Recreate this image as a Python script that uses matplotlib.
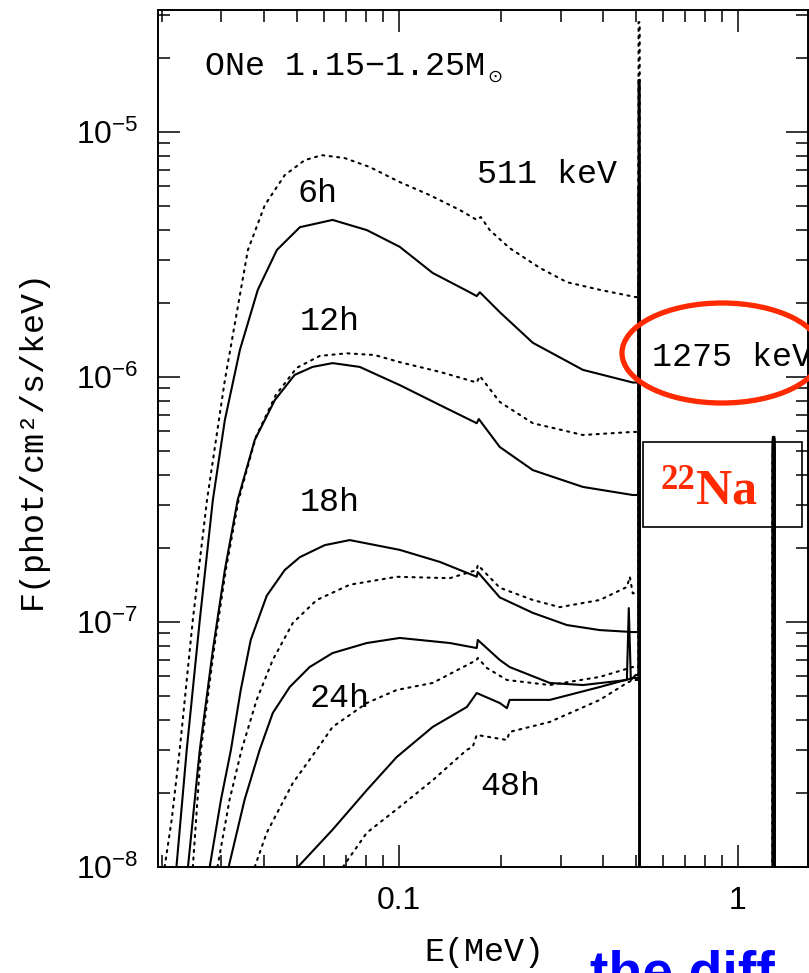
import matplotlib
matplotlib.use("Agg")
import matplotlib.pyplot as plt
from matplotlib.patches import Ellipse, Rectangle
from matplotlib.ticker import LogLocator, FuncFormatter, NullFormatter, FixedLocator

plt.rcParams['font.family'] = ['Liberation Sans', 'DejaVu Sans']
plt.rcParams['mathtext.fontset'] = 'custom'
plt.rcParams['mathtext.rm'] = 'Liberation Sans'
plt.rcParams['mathtext.it'] = 'Liberation Sans:italic'
plt.rcParams['mathtext.bf'] = 'Liberation Sans:bold'
plt.rcParams['mathtext.sf'] = 'Liberation Sans'

# ---------------- data (E in MeV, F in phot/cm2/s/keV) ----------------
times = ['6h', '12h', '18h', '24h', '48h']

E_6h_dot = [0.0204, 0.0214, 0.0226, 0.0247, 0.0272, 0.0307, 0.0359, 0.0403, 0.0461, 0.0528, 0.0593,
            0.0693, 0.0821, 0.1007, 0.1234, 0.1513, 0.1698, 0.1746, 0.1855, 0.2123, 0.2606, 0.3131,
            0.3917, 0.4999]
F_6h_dot = [1.0e-8, 1.56e-8, 3.01e-8, 1.02e-7, 3.15e-7, 9.7e-7, 3.30e-6, 5.04e-6, 6.67e-6, 7.68e-6, 8.05e-6,
            7.83e-6, 7.20e-6, 6.25e-6, 5.53e-6, 4.81e-6, 4.38e-6, 4.50e-6, 3.98e-6, 3.36e-6, 2.79e-6, 2.44e-6,
            2.27e-6, 2.12e-6]

E_6h_sol = [0.0221, 0.0237, 0.0259, 0.0283, 0.0307, 0.0340, 0.0384, 0.0437, 0.0511, 0.0638, 0.0805,
            0.1007, 0.1259, 0.1618, 0.1698, 0.1734, 0.1986, 0.2485, 0.3491, 0.4898]
F_6h_sol = [1.0e-8, 3.01e-8, 1.02e-7, 3.15e-7, 6.67e-7, 1.29e-6, 2.27e-6, 3.30e-6, 4.09e-6, 4.38e-6, 3.98e-6,
            3.40e-6, 2.66e-6, 2.22e-6, 2.14e-6, 2.22e-6, 1.84e-6, 1.38e-6, 1.07e-6, 9.5e-7]

E_12h_sol = [0.0239, 0.0259, 0.0283, 0.0307, 0.0335, 0.0376, 0.0431, 0.0493, 0.0557, 0.0638, 0.0767,
             0.1007, 0.1321, 0.1698, 0.1722, 0.1986, 0.2485, 0.3491, 0.4898]
F_12h_sol = [1.0e-8, 3.01e-8, 7.69e-8, 1.63e-7, 3.15e-7, 5.53e-7, 8.05e-7, 1.02e-6, 1.10e-6, 1.14e-6, 1.10e-6,
             9.27e-7, 7.69e-7, 6.48e-7, 6.74e-7, 5.18e-7, 4.17e-7, 3.56e-7, 3.30e-7]

E_12h_dot = [0.0247, 0.0261, 0.0285, 0.0309, 0.0337, 0.0379, 0.0434, 0.0500, 0.0585, 0.0703, 0.0849,
             0.1007, 0.1321, 0.1698, 0.1734, 0.1986, 0.2485, 0.3491, 0.4898]
F_12h_dot = [1.0e-8, 3.01e-8, 7.69e-8, 1.63e-7, 3.15e-7, 5.69e-7, 8.45e-7, 1.09e-6, 1.22e-6, 1.25e-6, 1.23e-6,
             1.15e-6, 1.05e-6, 9.5e-7, 1.01e-6, 7.91e-7, 6.48e-7, 5.80e-7, 5.97e-7]

E_18h_sol = [0.0277, 0.0299, 0.0320, 0.0342, 0.0366, 0.0408, 0.0461, 0.0511, 0.0605, 0.0717, 0.1007,
             0.1321, 0.1698, 0.1710, 0.1986, 0.2485, 0.3131, 0.3917, 0.4898]
F_18h_sol = [1.0e-8, 1.88e-8, 3.01e-8, 5.28e-8, 8.45e-8, 1.28e-7, 1.63e-7, 1.84e-7, 2.06e-7, 2.16e-7, 1.97e-7,
             1.76e-7, 1.53e-7, 1.60e-7, 1.26e-7, 1.09e-7, 9.72e-8, 9.27e-8, 9.10e-8]

E_18h_dot = [0.0292, 0.0317, 0.0344, 0.0356, 0.0381, 0.0425, 0.0487, 0.0573, 0.0717, 0.0986, 0.1414,
             0.1698, 0.1710, 0.1986, 0.2485, 0.2985, 0.3917, 0.4707, 0.4801, 0.4898]
F_18h_dot = [1.0e-8, 1.88e-8, 3.01e-8, 3.52e-8, 4.81e-8, 7.00e-8, 9.91e-8, 1.23e-7, 1.42e-7, 1.53e-7, 1.51e-7,
             1.63e-7, 1.71e-7, 1.38e-7, 1.23e-7, 1.15e-7, 1.23e-7, 1.39e-7, 1.53e-7, 1.31e-7]

E_24h_sol = [0.0315, 0.0351, 0.0389, 0.0425, 0.0477, 0.0546, 0.0638, 0.0805, 0.1007, 0.1414, 0.1698,
             0.1710, 0.1986, 0.2123, 0.2789, 0.3491, 0.4707, 0.4768, 0.4835, 0.4999]
F_24h_sol = [1.0e-8, 1.88e-8, 3.01e-8, 4.25e-8, 5.43e-8, 6.55e-8, 7.47e-8, 8.21e-8, 8.61e-8, 8.21e-8, 7.83e-8,
             8.45e-8, 7.00e-8, 6.55e-8, 5.64e-8, 5.53e-8, 5.80e-8, 1.14e-7, 5.80e-8, 6.08e-8]

E_24h_dot = [0.0376, 0.0408, 0.0487, 0.0573, 0.0638, 0.0805, 0.0986, 0.1259, 0.1698, 0.1710, 0.1820,
             0.2084, 0.2789, 0.3917, 0.4898]
F_24h_dot = [1.0e-8, 1.38e-8, 2.20e-8, 3.01e-8, 3.73e-8, 4.67e-8, 5.28e-8, 5.64e-8, 7.00e-8, 7.13e-8, 6.49e-8,
             5.80e-8, 5.53e-8, 5.97e-8, 6.55e-8]

E_48h_sol = [0.0504, 0.0638, 0.0805, 0.0986, 0.1259, 0.1588, 0.1698, 0.1986, 0.2084, 0.2123, 0.2789,
             0.3917, 0.4898]
F_48h_sol = [1.0e-8, 1.42e-8, 2.06e-8, 2.81e-8, 3.73e-8, 4.50e-8, 5.13e-8, 4.67e-8, 4.45e-8, 4.81e-8, 4.81e-8,
             5.43e-8, 5.91e-8]

E_48h_dot = [0.0684, 0.0805, 0.1007, 0.1259, 0.1588, 0.1652, 0.1698, 0.2084, 0.2123, 0.2789, 0.3917,
             0.4707, 0.4898]
F_48h_dot = [1.0e-8, 1.38e-8, 1.76e-8, 2.26e-8, 3.01e-8, 3.09e-8, 3.46e-8, 3.30e-8, 3.56e-8, 3.91e-8, 4.81e-8,
             5.64e-8, 5.80e-8]

# gamma-ray line peaks (511 keV annihilation, 1275 keV 22Na)
peak511_sol = [1.63e-5, 6.0e-6, 2.5e-6, 1.2e-6, 4.0e-7]
peak511_dot = [2.81e-5, 8.0e-6, 3.0e-6, 1.5e-6, 5.0e-7]
peak1275_sol = [5.7e-7, 5.6e-7, 5.5e-7, 5.4e-7, 5.2e-7]
peak1275_dot = [5.0e-7, 4.9e-7, 4.8e-7, 4.7e-7, 4.6e-7]

line_511_edges = [0.5095, 0.5135]    # line bin (MeV)
line_1275_edges = [1.268, 1.282]
F_zero = 1e-10  # no flux beyond the lines

xlim = (0.0195, 1.61)
ylim = (1e-8, 3.15e-5)

# ---------------- figure ----------------
W, H = 809, 973
fig = plt.figure(figsize=(W / 100, H / 100), dpi=100)
fx = lambda px: px / W
fy = lambda py: 1 - py / H
ax = fig.add_axes([fx(158), fy(867), fx(808) - fx(158), fy(10) - fy(867)])
ax.set_xscale('log')
ax.set_yscale('log')


def spectrum(E, F, p511, p1275):
    a, b = line_511_edges
    c, d = line_1275_edges
    e = list(E) + [a, a, b, b, c, c, d, d]
    f = list(F) + [F[-1], p511, p511, F_zero, F_zero, p1275, p1275, F_zero]
    return e, f


solids = [(E_6h_sol, F_6h_sol), (E_12h_sol, F_12h_sol), (E_18h_sol, F_18h_sol),
          (E_24h_sol, F_24h_sol), (E_48h_sol, F_48h_sol)]
dots = [(E_6h_dot, F_6h_dot), (E_12h_dot, F_12h_dot), (E_18h_dot, F_18h_dot),
        (E_24h_dot, F_24h_dot), (E_48h_dot, F_48h_dot)]

for i, (E, F) in enumerate(dots):
    e, f = spectrum(E, F, peak511_dot[i], peak1275_dot[i])
    ax.plot(e, f, color='black', lw=1.5, linestyle=(0, (1, 2.6)), dash_capstyle='round')
for i, (E, F) in enumerate(solids):
    e, f = spectrum(E, F, peak511_sol[i], peak1275_sol[i])
    ax.plot(e, f, color='black', lw=1.5)

ax.set_xlim(*xlim)
ax.set_ylim(*ylim)

ax.xaxis.set_major_locator(FixedLocator([0.01, 0.1, 1, 10]))
ax.xaxis.set_minor_locator(LogLocator(base=10, subs=range(2, 10), numticks=20))
ax.xaxis.set_major_formatter(FuncFormatter(lambda v, p: f'{v:g}'))
ax.xaxis.set_minor_formatter(NullFormatter())
ax.yaxis.set_major_locator(LogLocator(base=10, numticks=20))
ax.yaxis.set_minor_locator(LogLocator(base=10, subs=range(2, 10), numticks=20))
ax.yaxis.set_minor_formatter(NullFormatter())

ax.tick_params(which='both', direction='in', top=True, right=True, width=1.1, color='black')
ax.tick_params(which='major', length=16, pad=14, labelsize=23)
ax.tick_params(which='minor', length=8.5)
for s in ax.spines.values():
    s.set_linewidth(1.4)

mono = 'Liberation Mono'
fig.text(fx(484), fy(953), 'E(MeV)', family=mono, fontsize=24, ha='center', va='center')
fig.text(fx(32), fy(439), 'F(phot/cm²/s/keV)', family=mono, fontsize=24, ha='center', va='center',
         rotation=90)

labels = [('ONe 1.15−1.25M', 205, 75), ('511 keV', 477, 183), ('6h', 297, 202),
          ('12h', 300, 330), ('18h', 300, 511), ('24h', 310, 707), ('48h', 480, 795),
          ('1275 keV', 652, 366)]
for txt, px, py in labels:
    fig.text(fx(px), fy(py), txt, family=mono, fontsize=24, ha='left', va='baseline')
fig.text(fx(487), fy(82), '⊙', family='DejaVu Sans', fontsize=13, ha='left', va='baseline')

# annotations overlay
red = '#ff2a00'
fig.patches.append(Ellipse((fx(722), fy(353)), 200 / W, 100 / H, transform=fig.transFigure,
                           fill=False, edgecolor=red, lw=3.8))
fig.patches.append(Rectangle((fx(643), fy(527)), (802 - 643) / W, (527 - 442) / H,
                             transform=fig.transFigure, fill=False, edgecolor='black', lw=1.2))
fig.text(fx(661), fy(489), '22', family='Liberation Serif', fontweight='bold', fontsize=25, color=red,
         ha='left', va='baseline')
fig.text(fx(696), fy(503), 'Na', family='Liberation Serif', fontweight='bold', fontsize=36, color=red,
         ha='left', va='baseline')

fig.text(fx(590), fy(950), 'the diff', family='Liberation Sans', fontweight='bold', fontsize=40,
         color='#0000ff', ha='left', va='top')

fig.savefig('out.png', dpi=100)
